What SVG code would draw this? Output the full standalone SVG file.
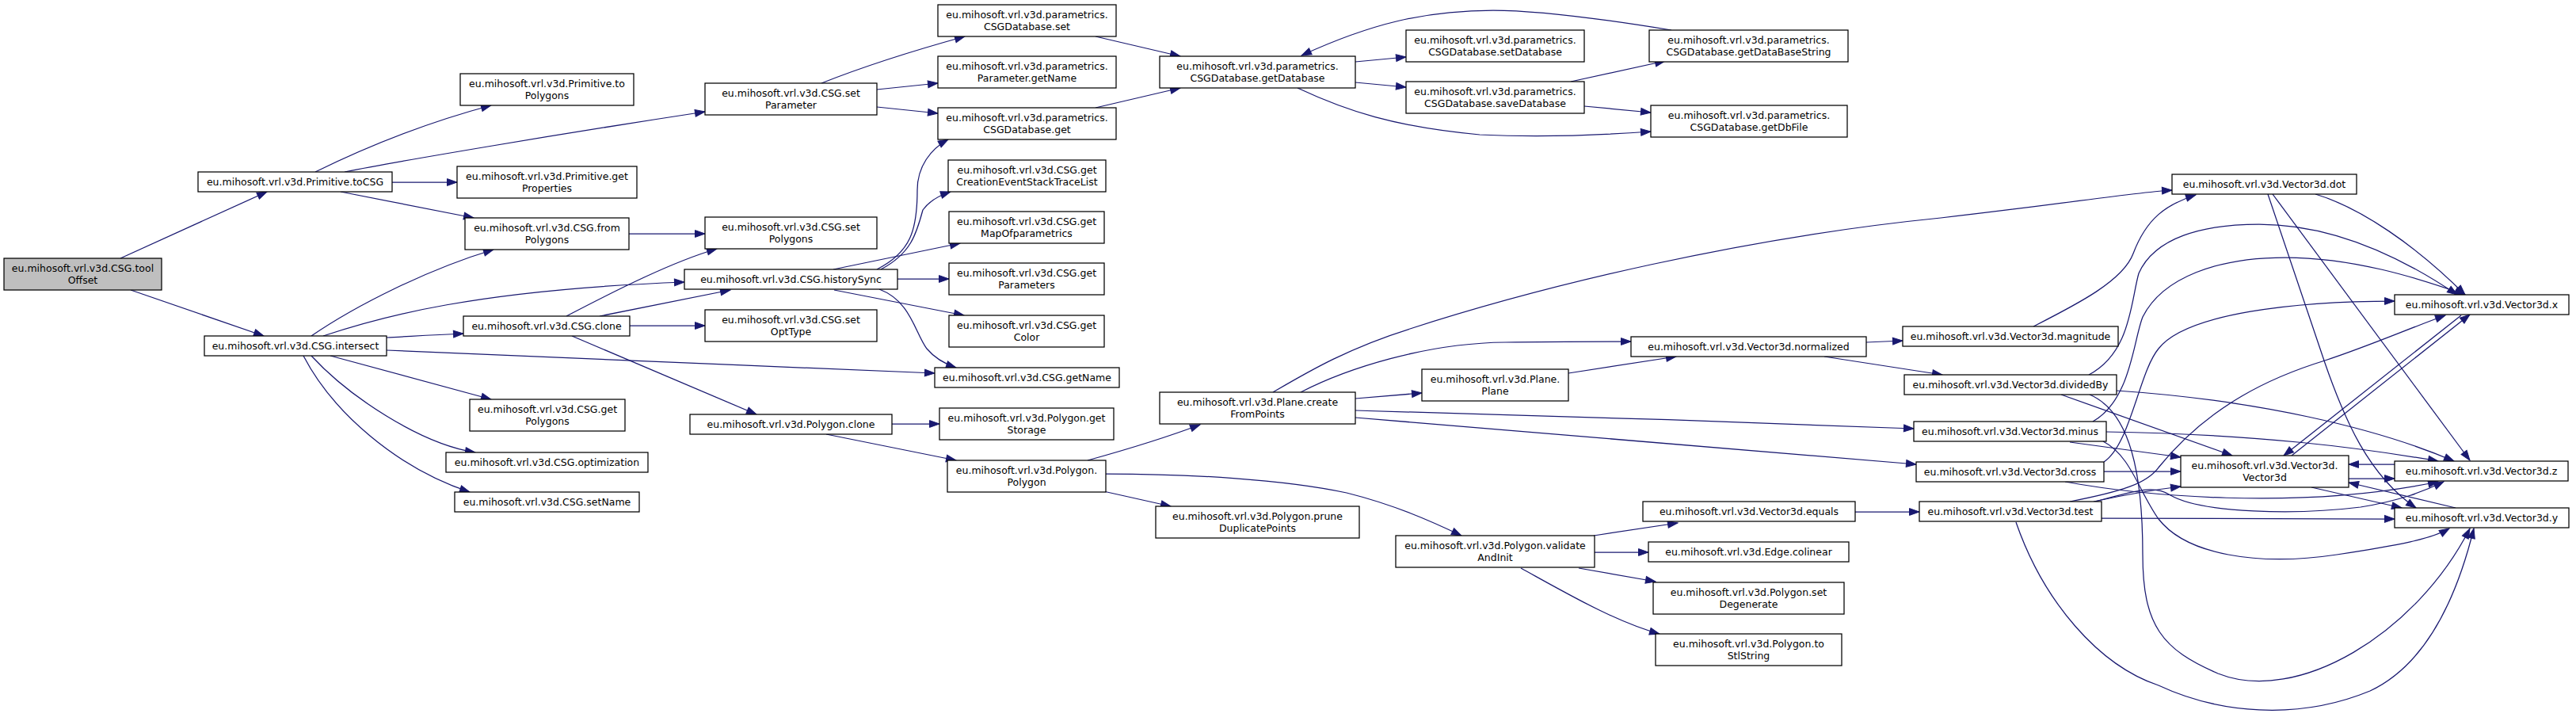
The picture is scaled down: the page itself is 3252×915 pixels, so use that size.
<svg xmlns="http://www.w3.org/2000/svg" width="3252" height="915" viewBox="0 0 3252 915">
<style>
.n rect{fill:#fff;stroke:#000;stroke-width:1.25}
.root rect{fill:#bfbfbf}
text{font-family:"DejaVu Sans",sans-serif;font-size:12.5px;text-anchor:middle;fill:#000}
#edges path{fill:none;stroke:#191970;stroke-width:1.25;marker-end:url(#a)}
</style>
<defs>
<marker id="a" markerUnits="userSpaceOnUse" markerWidth="13" markerHeight="9" refX="12.5" refY="4.4" orient="auto" overflow="visible">
<path d="M0,0 L12.5,4.4 L0,8.8 z" fill="#191970" stroke="#191970" stroke-width="1"/>
</marker>
</defs>
<rect width="3252" height="915" fill="#fff"/>
<g id="edges">
<path d="M152,326 L337,242"/>
<path d="M165,366 L333,424"/>
<path d="M398,217 C455,189 530,157 620,133"/>
<path d="M435,217 C500,204 700,170 890,141"/>
<path d="M495,230 L577,230"/>
<path d="M430,242 L598,275"/>
<path d="M393,424 C450,385 540,340 623,315"/>
<path d="M408,424 C480,400 600,366 864,356"/>
<path d="M488,426 C510,425 540,423 585,421"/>
<path d="M488,442 C700,450 950,462 1180,471"/>
<path d="M417,449 L620,504"/>
<path d="M393,449 C440,500 530,560 600,571"/>
<path d="M383,449 C420,520 500,590 593,621"/>
<path d="M1037,105 C1100,80 1160,62 1218,46"/>
<path d="M1107,113 L1184,105"/>
<path d="M1107,135 L1184,143"/>
<path d="M794,295 L890,295"/>
<path d="M715,399 C780,365 850,330 905,314"/>
<path d="M757,399 L922,366"/>
<path d="M795,411 L890,411"/>
<path d="M722,424 L955,523"/>
<path d="M1107,340 C1150,318 1158,290 1158,240 C1158,210 1175,188 1197,176"/>
<path d="M1112,340 C1150,320 1157,295 1165,265 C1172,255 1185,247 1200,242"/>
<path d="M1052,340 L1212,307"/>
<path d="M1133,352 L1198,352"/>
<path d="M1053,366 L1217,398"/>
<path d="M1110,365 C1150,380 1155,420 1170,440 C1180,452 1195,460 1207,464"/>
<path d="M1383,46 L1490,71"/>
<path d="M1383,136 L1490,111"/>
<path d="M1711,78 L1775,72"/>
<path d="M1711,104 L1775,110"/>
<path d="M1638,111 C1700,140 1760,160 1868,170 C1950,174 2030,170 2084,166"/>
<path d="M2110,38 C2000,20 1930,13 1885,13 C1800,13 1730,30 1643,70"/>
<path d="M1983,103 L2102,77"/>
<path d="M2000,134 L2084,142"/>
<path d="M1126,535 L1186,535"/>
<path d="M1043,548 L1207,581"/>
<path d="M1373,581 C1420,568 1470,553 1515,536"/>
<path d="M1396,598 C1500,598 1620,605 1700,622 C1760,637 1805,657 1845,676"/>
<path d="M1393,620 L1478,639"/>
<path d="M1607,495 C1650,470 1700,440 1780,415 C1950,360 2200,300 2450,275 C2600,258 2700,242 2742,240"/>
<path d="M1642,495 C1700,465 1800,433 1900,432 C1960,431 2010,431 2059,431"/>
<path d="M1711,503 L1795,496"/>
<path d="M1711,518 C1900,523 2200,532 2416,541"/>
<path d="M1711,527 L2419,586"/>
<path d="M1980,471 L2116,450"/>
<path d="M2356,432 L2402,430"/>
<path d="M2303,450 L2452,473"/>
<path d="M2567,412 C2620,385 2680,355 2693,320 C2710,275 2735,258 2772,246"/>
<path d="M2012,676 L2118,660"/>
<path d="M2013,697 L2081,697"/>
<path d="M1993,717 L2090,734"/>
<path d="M1920,717 C1980,750 2040,785 2095,800"/>
<path d="M2342,646 L2423,646"/>
<path d="M2923,245 C2980,262 3050,310 3112,372"/>
<path d="M2869,245 L3118,581"/>
<path d="M2863,245 L2935,458 C2960,530 2990,600 3050,641"/>
<path d="M2637,473 C2690,445 2690,380 2700,345 C2720,300 2780,283 2852,283 C2950,283 3040,330 3102,372"/>
<path d="M2642,532 C2690,505 2693,430 2705,400 C2730,350 2800,325 2885,325 C2970,325 3050,350 3112,372"/>
<path d="M2656,583 C2690,560 2700,470 2725,440 C2760,395 2900,380 3023,380"/>
<path d="M2613,633 C2680,620 2710,610 2725,590 C2790,510 2870,475 2935,455 C2990,437 3040,415 3087,398"/>
<path d="M2602,498 L2818,575"/>
<path d="M2672,493 C2850,505 3000,540 3098,582"/>
<path d="M2659,545 C2850,548 2980,565 3078,582"/>
<path d="M2613,558 L2753,577"/>
<path d="M2656,595 L2753,595"/>
<path d="M2607,608 C2700,625 2900,645 3078,608"/>
<path d="M2643,633 C2680,625 2720,618 2753,614"/>
<path d="M2645,633 C2700,618 2720,612 2740,625 C2780,648 2900,650 2980,640 C3030,632 3060,620 3085,608"/>
<path d="M2653,654 L3023,655"/>
<path d="M2638,498 C2690,520 2705,600 2705,700 C2705,790 2730,820 2800,850 C2900,890 3050,800 3118,667"/>
<path d="M2655,557 C2690,575 2700,620 2725,655 C2760,700 2850,715 2950,700 C3030,688 3070,680 3092,667"/>
<path d="M2545,659 C2580,760 2650,840 2725,865 C2800,900 2900,910 2992,872 C3060,840 3100,760 3123,667"/>
<path d="M2965,604 L3023,604"/>
<path d="M3023,586 L2965,586"/>
<path d="M3100,641 L2965,609"/>
<path d="M2918,615 L3032,641"/>
<path d="M3107,398 L2883,575"/>
<path d="M2893,575 L3118,397"/>
</g>
<g id="n0" class="n root"><rect x="5" y="326" width="199" height="40"/><text x="104.5" y="342.6">eu.mihosoft.vrl.v3d.CSG.tool</text><text x="104.5" y="357.6">Offset</text></g>
<g id="n1" class="n"><rect x="250" y="217" width="245" height="25"/><text x="372.5" y="233.6">eu.mihosoft.vrl.v3d.Primitive.toCSG</text></g>
<g id="n2" class="n"><rect x="258" y="424" width="230" height="25"/><text x="373" y="440.6">eu.mihosoft.vrl.v3d.CSG.intersect</text></g>
<g id="n3" class="n"><rect x="581" y="93" width="219" height="40"/><text x="690.5" y="109.6">eu.mihosoft.vrl.v3d.Primitive.to</text><text x="690.5" y="124.6">Polygons</text></g>
<g id="n4" class="n"><rect x="890" y="105" width="217" height="40"/><text x="998.5" y="121.6">eu.mihosoft.vrl.v3d.CSG.set</text><text x="998.5" y="136.6">Parameter</text></g>
<g id="n5" class="n"><rect x="577" y="210" width="227" height="40"/><text x="690.5" y="226.6">eu.mihosoft.vrl.v3d.Primitive.get</text><text x="690.5" y="241.6">Properties</text></g>
<g id="n6" class="n"><rect x="587" y="275" width="207" height="40"/><text x="690.5" y="291.6">eu.mihosoft.vrl.v3d.CSG.from</text><text x="690.5" y="306.6">Polygons</text></g>
<g id="n7" class="n"><rect x="890" y="274" width="217" height="40"/><text x="998.5" y="290.6">eu.mihosoft.vrl.v3d.CSG.set</text><text x="998.5" y="305.6">Polygons</text></g>
<g id="n8" class="n"><rect x="864" y="340" width="269" height="25"/><text x="998.5" y="356.6">eu.mihosoft.vrl.v3d.CSG.historySync</text></g>
<g id="n9" class="n"><rect x="585" y="399" width="210" height="25"/><text x="690" y="415.6">eu.mihosoft.vrl.v3d.CSG.clone</text></g>
<g id="n10" class="n"><rect x="890" y="391" width="217" height="40"/><text x="998.5" y="407.6">eu.mihosoft.vrl.v3d.CSG.set</text><text x="998.5" y="422.6">OptType</text></g>
<g id="n11" class="n"><rect x="593" y="504" width="196" height="40"/><text x="691" y="520.6">eu.mihosoft.vrl.v3d.CSG.get</text><text x="691" y="535.6">Polygons</text></g>
<g id="n12" class="n"><rect x="563" y="571" width="255" height="25"/><text x="690.5" y="587.6">eu.mihosoft.vrl.v3d.CSG.optimization</text></g>
<g id="n13" class="n"><rect x="574" y="621" width="233" height="25"/><text x="690.5" y="637.6">eu.mihosoft.vrl.v3d.CSG.setName</text></g>
<g id="n14" class="n"><rect x="871" y="523" width="255" height="25"/><text x="998.5" y="539.6">eu.mihosoft.vrl.v3d.Polygon.clone</text></g>
<g id="n15" class="n"><rect x="1184" y="6" width="225" height="40"/><text x="1296.5" y="22.6">eu.mihosoft.vrl.v3d.parametrics.</text><text x="1296.5" y="37.6">CSGDatabase.set</text></g>
<g id="n16" class="n"><rect x="1184" y="71" width="225" height="40"/><text x="1296.5" y="87.6">eu.mihosoft.vrl.v3d.parametrics.</text><text x="1296.5" y="102.6">Parameter.getName</text></g>
<g id="n17" class="n"><rect x="1184" y="136" width="225" height="40"/><text x="1296.5" y="152.6">eu.mihosoft.vrl.v3d.parametrics.</text><text x="1296.5" y="167.6">CSGDatabase.get</text></g>
<g id="n18" class="n"><rect x="1197" y="202" width="199" height="40"/><text x="1296.5" y="218.6">eu.mihosoft.vrl.v3d.CSG.get</text><text x="1296.5" y="233.6">CreationEventStackTraceList</text></g>
<g id="n19" class="n"><rect x="1198" y="267" width="196" height="40"/><text x="1296" y="283.6">eu.mihosoft.vrl.v3d.CSG.get</text><text x="1296" y="298.6">MapOfparametrics</text></g>
<g id="n20" class="n"><rect x="1198" y="332" width="196" height="40"/><text x="1296" y="348.6">eu.mihosoft.vrl.v3d.CSG.get</text><text x="1296" y="363.6">Parameters</text></g>
<g id="n21" class="n"><rect x="1198" y="398" width="196" height="40"/><text x="1296" y="414.6">eu.mihosoft.vrl.v3d.CSG.get</text><text x="1296" y="429.6">Color</text></g>
<g id="n22" class="n"><rect x="1464" y="71" width="247" height="40"/><text x="1587.5" y="87.6">eu.mihosoft.vrl.v3d.parametrics.</text><text x="1587.5" y="102.6">CSGDatabase.getDatabase</text></g>
<g id="n23" class="n"><rect x="1180" y="464" width="233" height="25"/><text x="1296.5" y="480.6">eu.mihosoft.vrl.v3d.CSG.getName</text></g>
<g id="n24" class="n"><rect x="1186" y="515" width="220" height="40"/><text x="1296" y="531.6">eu.mihosoft.vrl.v3d.Polygon.get</text><text x="1296" y="546.6">Storage</text></g>
<g id="n25" class="n"><rect x="1196" y="581" width="200" height="40"/><text x="1296" y="597.6">eu.mihosoft.vrl.v3d.Polygon.</text><text x="1296" y="612.6">Polygon</text></g>
<g id="n26" class="n"><rect x="1464" y="495" width="247" height="40"/><text x="1587.5" y="511.6">eu.mihosoft.vrl.v3d.Plane.create</text><text x="1587.5" y="526.6">FromPoints</text></g>
<g id="n27" class="n"><rect x="1459" y="639" width="257" height="40"/><text x="1587.5" y="655.6">eu.mihosoft.vrl.v3d.Polygon.prune</text><text x="1587.5" y="670.6">DuplicatePoints</text></g>
<g id="n28" class="n"><rect x="1775" y="38" width="225" height="40"/><text x="1887.5" y="54.6">eu.mihosoft.vrl.v3d.parametrics.</text><text x="1887.5" y="69.6">CSGDatabase.setDatabase</text></g>
<g id="n29" class="n"><rect x="1775" y="103" width="225" height="40"/><text x="1887.5" y="119.6">eu.mihosoft.vrl.v3d.parametrics.</text><text x="1887.5" y="134.6">CSGDatabase.saveDatabase</text></g>
<g id="n30" class="n"><rect x="2082" y="38" width="251" height="40"/><text x="2207.5" y="54.6">eu.mihosoft.vrl.v3d.parametrics.</text><text x="2207.5" y="69.6">CSGDatabase.getDataBaseString</text></g>
<g id="n31" class="n"><rect x="2084" y="133" width="248" height="40"/><text x="2208" y="149.6">eu.mihosoft.vrl.v3d.parametrics.</text><text x="2208" y="164.6">CSGDatabase.getDbFile</text></g>
<g id="n32" class="n"><rect x="2059" y="425" width="297" height="25"/><text x="2207.5" y="441.6">eu.mihosoft.vrl.v3d.Vector3d.normalized</text></g>
<g id="n33" class="n"><rect x="1795" y="466" width="185" height="40"/><text x="1887.5" y="482.6">eu.mihosoft.vrl.v3d.Plane.</text><text x="1887.5" y="497.6">Plane</text></g>
<g id="n34" class="n"><rect x="1762" y="676" width="251" height="40"/><text x="1887.5" y="692.6">eu.mihosoft.vrl.v3d.Polygon.validate</text><text x="1887.5" y="707.6">AndInit</text></g>
<g id="n35" class="n"><rect x="2074" y="633" width="268" height="25"/><text x="2208" y="649.6">eu.mihosoft.vrl.v3d.Vector3d.equals</text></g>
<g id="n36" class="n"><rect x="2081" y="684" width="253" height="25"/><text x="2207.5" y="700.6">eu.mihosoft.vrl.v3d.Edge.colinear</text></g>
<g id="n37" class="n"><rect x="2087" y="735" width="241" height="40"/><text x="2207.5" y="751.6">eu.mihosoft.vrl.v3d.Polygon.set</text><text x="2207.5" y="766.6">Degenerate</text></g>
<g id="n38" class="n"><rect x="2090" y="800" width="235" height="40"/><text x="2207.5" y="816.6">eu.mihosoft.vrl.v3d.Polygon.to</text><text x="2207.5" y="831.6">StlString</text></g>
<g id="n39" class="n"><rect x="2402" y="412" width="272" height="25"/><text x="2538" y="428.6">eu.mihosoft.vrl.v3d.Vector3d.magnitude</text></g>
<g id="n40" class="n"><rect x="2404" y="473" width="268" height="25"/><text x="2538" y="489.6">eu.mihosoft.vrl.v3d.Vector3d.dividedBy</text></g>
<g id="n41" class="n"><rect x="2416" y="532" width="243" height="25"/><text x="2537.5" y="548.6">eu.mihosoft.vrl.v3d.Vector3d.minus</text></g>
<g id="n42" class="n"><rect x="2419" y="583" width="237" height="25"/><text x="2537.5" y="599.6">eu.mihosoft.vrl.v3d.Vector3d.cross</text></g>
<g id="n43" class="n"><rect x="2423" y="633" width="230" height="25"/><text x="2538" y="649.6">eu.mihosoft.vrl.v3d.Vector3d.test</text></g>
<g id="n44" class="n"><rect x="2742" y="220" width="233" height="25"/><text x="2858.5" y="236.6">eu.mihosoft.vrl.v3d.Vector3d.dot</text></g>
<g id="n45" class="n"><rect x="3023" y="372" width="220" height="25"/><text x="3133" y="388.6">eu.mihosoft.vrl.v3d.Vector3d.x</text></g>
<g id="n46" class="n"><rect x="2753" y="575" width="212" height="40"/><text x="2859" y="591.6">eu.mihosoft.vrl.v3d.Vector3d.</text><text x="2859" y="606.6">Vector3d</text></g>
<g id="n47" class="n"><rect x="3023" y="582" width="219" height="25"/><text x="3132.5" y="598.6">eu.mihosoft.vrl.v3d.Vector3d.z</text></g>
<g id="n48" class="n"><rect x="3023" y="641" width="220" height="25"/><text x="3133" y="657.6">eu.mihosoft.vrl.v3d.Vector3d.y</text></g>
</svg>
